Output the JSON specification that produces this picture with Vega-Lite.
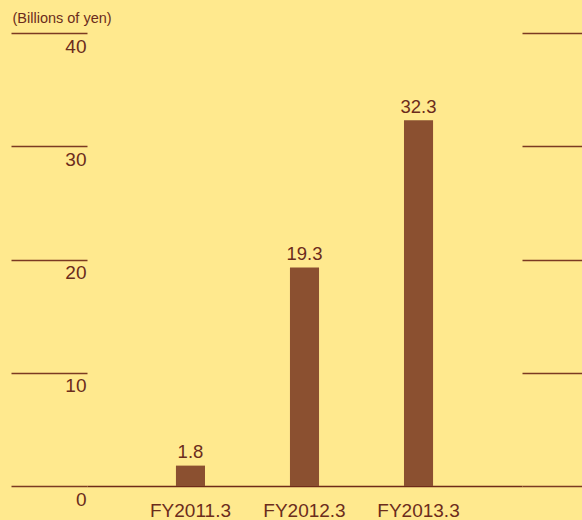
{
  "$schema": "https://vega.github.io/schema/vega-lite/v6.json",
  "autosize": {"type": "none"},
  "width": 435,
  "height": 453,
  "padding": {"left": 87, "top": 33, "right": 60, "bottom": 34},
  "background": "#FFE98E",
  "config": {
    "font": "Liberation Sans",
    "view": {"stroke": null},
    "axis": {"labelColor": "#6B2C1C", "titleColor": "#6B2C1C"}
  },
  "data": {
    "values": [
      {"year": "FY2011.3", "value": 1.8},
      {"year": "FY2012.3", "value": 19.3},
      {"year": "FY2013.3", "value": 32.3}
    ]
  },
  "encoding": {
    "x": {
      "field": "year",
      "type": "nominal",
      "sort": null,
      "scale": {"paddingInner": 0.745, "paddingOuter": 0.78},
      "axis": {
        "title": null,
        "labelAngle": 0,
        "labelFontSize": 19,
        "labelPadding": 15,
        "ticks": false,
        "domainColor": "#6E2A18",
        "domainWidth": 1.5
      }
    }
  },
  "layer": [
    {
      "mark": {"type": "bar", "color": "#8B5030"},
      "encoding": {
        "y": {
          "field": "value",
          "type": "quantitative",
          "scale": {"domain": [0, 40], "nice": false},
          "axis": {
            "orient": "left",
            "title": "(Billions of yen)",
            "titleAngle": 0,
            "titleX": -75,
            "titleY": -10.5,
            "titleAlign": "left",
            "titleBaseline": "alphabetic",
            "titleFontSize": 14.5,
            "titleFontWeight": "normal",
            "values": [0, 10, 20, 30, 40],
            "grid": false,
            "domain": false,
            "tickSize": 76,
            "tickColor": "#7B3A22",
            "tickWidth": 1.5,
            "labelFontSize": 19,
            "labelAlign": "right",
            "labelBaseline": "top",
            "labelPadding": -75,
            "labelOffset": 4
          }
        }
      }
    },
    {
      "mark": {"type": "text", "baseline": "alphabetic", "dy": -7.5, "fontSize": 18.5, "color": "#6B2C1C"},
      "encoding": {
        "y": {
          "field": "value",
          "type": "quantitative",
          "axis": {
            "orient": "right",
            "title": null,
            "values": [0, 10, 20, 30, 40],
            "grid": false,
            "domain": false,
            "labels": false,
            "tickSize": 60,
            "tickColor": "#7B3A22",
            "tickWidth": 1.5
          }
        },
        "text": {"field": "value", "type": "quantitative", "format": ".1f"}
      }
    }
  ],
  "resolve": {"axis": {"y": "independent"}}
}
